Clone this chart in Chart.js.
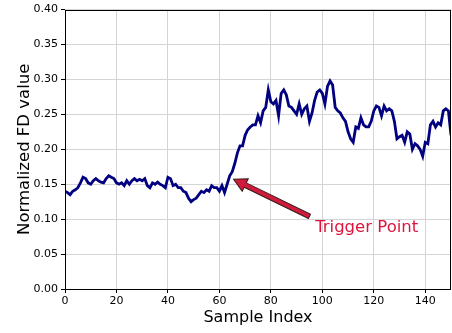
<!DOCTYPE html>
<html>
<head>
<meta charset="utf-8">
<script src="https://cdn.jsdelivr.net/npm/chart.js@4.4.0/dist/chart.umd.min.js"></script>
<style>
  html, body { margin: 0; padding: 0; background: #ffffff; }
  #wrap { width: 452px; height: 333px; }
</style>
</head>
<body>
<div id="wrap"><canvas id="fdChart" width="452" height="333"></canvas></div>
<script>
// data
const fdValues = [
  0.140, 0.138, 0.135, 0.140, 0.142, 0.145, 0.152, 0.160, 0.158, 0.152,
  0.150, 0.155, 0.158, 0.155, 0.153, 0.152, 0.158, 0.162, 0.160, 0.158,
  0.152, 0.150, 0.152, 0.148, 0.155, 0.150, 0.155, 0.158, 0.155, 0.157,
  0.155, 0.158, 0.148, 0.145, 0.152, 0.150, 0.153, 0.150, 0.148, 0.145,
  0.160, 0.158, 0.148, 0.150, 0.145, 0.145, 0.140, 0.138, 0.130, 0.125,
  0.128, 0.130, 0.135, 0.140, 0.138, 0.142, 0.140, 0.148, 0.145, 0.145,
  0.140, 0.148, 0.138, 0.150, 0.162, 0.168, 0.180, 0.195, 0.205, 0.205,
  0.220, 0.228, 0.232, 0.235, 0.235, 0.248, 0.238, 0.255, 0.260, 0.285,
  0.268, 0.265, 0.270, 0.248, 0.280, 0.285, 0.278, 0.262, 0.260, 0.255,
  0.250, 0.265, 0.250, 0.258, 0.262, 0.240, 0.252, 0.270, 0.282, 0.285,
  0.280, 0.265, 0.290, 0.298, 0.292, 0.260, 0.255, 0.252, 0.245, 0.240,
  0.225, 0.215, 0.210, 0.232, 0.230, 0.245, 0.235, 0.232, 0.232, 0.240,
  0.255, 0.262, 0.260, 0.248, 0.262, 0.255, 0.258, 0.255, 0.240, 0.215,
  0.218, 0.220, 0.210, 0.225, 0.222, 0.200, 0.208, 0.205, 0.200, 0.190,
  0.210, 0.208, 0.235, 0.240, 0.232, 0.238, 0.235, 0.255, 0.258, 0.255,
  0.220
];
const sampleIndex = fdValues.map((v, i) => i);

const xTicks = [0, 20, 40, 60, 80, 100, 120, 140];
const yTicks = [0.00, 0.05, 0.10, 0.15, 0.20, 0.25, 0.30, 0.35, 0.40];

// annotation: arrow tail / head and label, in data units
const triggerLabel = 'Trigger Point';
const arrowTail = [95, 0.104];
const arrowHead = [65.5, 0.157];
const labelPos = [97.2, 0.088];

const FONT = "'DejaVu Sans', sans-serif";

// matplotlib-like frame round the plot area
const framePlugin = {
  id: 'frame',
  afterDraw(chart) {
    const { ctx, chartArea: a } = chart;
    ctx.save();
    ctx.strokeStyle = '#000000';
    ctx.lineWidth = 1;
    ctx.strokeRect(Math.round(a.left) + 0.5, Math.round(a.top) + 0.5,
      Math.round(a.right - a.left) - 1, Math.round(a.bottom - a.top));
    ctx.restore();
  }
};

// arrow + text annotation
const triggerPlugin = {
  id: 'trigger',
  afterDatasetsDraw(chart) {
    const { ctx, scales } = chart;
    const x0 = scales.x.getPixelForValue(arrowTail[0]);
    const y0 = scales.y.getPixelForValue(arrowTail[1]);
    const x1 = scales.x.getPixelForValue(arrowHead[0]);
    const y1 = scales.y.getPixelForValue(arrowHead[1]);
    const ang = Math.atan2(y1 - y0, x1 - x0);
    const len = Math.hypot(x1 - x0, y1 - y0);
    const shaft = 2.4, headLen = 13, headW = 7;

    ctx.save();
    ctx.translate(x0, y0);
    ctx.rotate(ang);
    ctx.beginPath();
    ctx.moveTo(0, -shaft);
    ctx.lineTo(len - headLen, -shaft);
    ctx.lineTo(len - headLen, -headW);
    ctx.lineTo(len, 0);
    ctx.lineTo(len - headLen, headW);
    ctx.lineTo(len - headLen, shaft);
    ctx.lineTo(0, shaft);
    ctx.closePath();
    ctx.fillStyle = '#d01c3c';
    ctx.fill();
    ctx.strokeStyle = '#3a1a1a';
    ctx.lineWidth = 1;
    ctx.stroke();
    ctx.restore();

    ctx.save();
    ctx.font = '16.5px ' + FONT;
    ctx.fillStyle = '#dc143c';
    ctx.textAlign = 'left';
    ctx.textBaseline = 'middle';
    ctx.fillText(triggerLabel,
      scales.x.getPixelForValue(labelPos[0]),
      scales.y.getPixelForValue(labelPos[1]));
    ctx.restore();
  }
};

new Chart(document.getElementById('fdChart'), {
  type: 'line',
  data: {
    datasets: [{
      data: sampleIndex.map((x, i) => ({ x: x, y: fdValues[i] })),
      borderColor: '#000080',
      borderWidth: 2.8,
      pointRadius: 0,
      fill: false,
      tension: 0
    }]
  },
  options: {
    responsive: false,
    animation: false,
    devicePixelRatio: 1,
    layout: { padding: { top: 8, right: 1, left: 0, bottom: 0 } },
    plugins: {
      legend: { display: false },
      tooltip: { enabled: false }
    },
    scales: {
      x: {
        type: 'linear',
        min: 0,
        max: 150,
        afterBuildTicks: s => { s.ticks = xTicks.map(v => ({ value: v })); },
        afterFit: s => { s.height = 44; },
        grid: { color: '#d4d4d4', lineWidth: 1, tickLength: 4, tickColor: '#000000' },
        border: { display: false },
        ticks: {
          color: '#000000',
          font: { family: FONT, size: 11 },
          padding: 2,
          maxRotation: 0
        },
        title: {
          display: true,
          text: 'Sample Index',
          color: '#000000',
          font: { family: FONT, size: 16 },
          padding: { top: 0, bottom: 6 }
        }
      },
      y: {
        min: 0,
        max: 0.40,
        afterBuildTicks: s => { s.ticks = yTicks.map(v => ({ value: v })); },
        afterFit: s => { s.width = 65; },
        grid: { color: '#d4d4d4', lineWidth: 1, tickLength: 4, tickColor: '#000000' },
        border: { display: false },
        ticks: {
          color: '#000000',
          font: { family: FONT, size: 11 },
          padding: 3,
          callback: v => v.toFixed(2)
        },
        title: {
          display: true,
          text: 'Normalized FD value',
          color: '#000000',
          font: { family: FONT, size: 16.5 },
          padding: { top: 15, bottom: 4 }
        }
      }
    }
  },
  plugins: [framePlugin, triggerPlugin]
});
</script>
</body>
</html>
